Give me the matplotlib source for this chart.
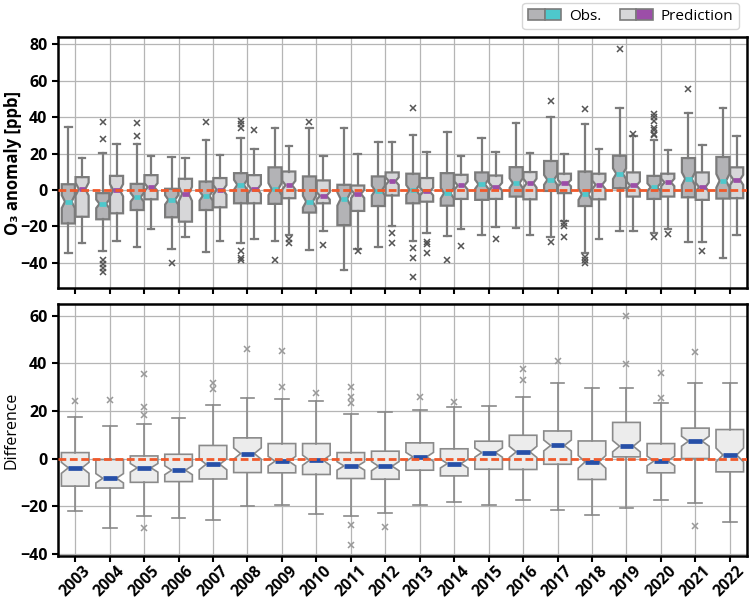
import numpy as np
import matplotlib
matplotlib.use("Agg")
import matplotlib.pyplot as plt
from matplotlib.patches import Patch
from matplotlib.legend_handler import HandlerTuple

plt.rcParams['font.family'] = ['Open Sans', 'DejaVu Sans']

years = [str(y) for y in range(2003, 2023)]

# ---- Observations (top panel) ----
obs_whislo = [-35, -33.8, -31.4, -32.5, -34.3, -29.5, -28, -33.2, -43.9, -31.7,
              -28.4, -25.5, -24.9, -20.8, -26.2, -35, -22.7, -24, -28.8, -37.3]
obs_q1 = [-18.5, -16.2, -11.1, -15.1, -11.1, -7.4, -7.7, -12.5, -19.4, -8.9,
          -7.4, -8.7, -5.5, -3.7, -0.6, -8.9, 0.9, -5, -4.1, -4.8]
obs_med = [-6.5, -7.7, -4.1, -5.5, -3.3, 2.8, 0.4, -6.5, -5, -0.4,
           0, -1.8, 3.1, 3.7, 5.5, -2.4, 8.9, 1.5, 6.1, 5]
obs_q3 = [3.1, -1.8, 3.3, 0.6, 4.6, 9.2, 12.4, 7.4, 2.8, 7.4,
          8.9, 9.2, 9.6, 12.5, 15.9, 10.1, 18.8, 7.7, 17.5, 18.1]
obs_whishi = [34.7, 20.3, 25.3, 18.1, 27.7, 28.4, 34.1, 33.8, 33.8, 26.2,
              30.3, 31.7, 28.8, 36.9, 40, 36.5, 44.8, 27.7, 42.4, 44.8]
obs_fliers = [[], [37.3, 28.2, -38.4, -40.6, -43, -45], [36.9, 29.5], [-40.2], [37.1],
              [38, 36, 34, -33.6, -37.3, -38.7], [-38.7], [37.6], [], [],
              [45.2, -32, -37.5, -48], [-38.4], [], [], [48.9, -28.6],
              [44.3, -37, -38.5, -40], [77.6], [42, 40, 38, 34, 33, 31, 30, -25.8], [55.4], []]

# ---- Prediction (top panel) ----
pred_whislo = [-29, -28.2, -21.8, -25.8, -28.2, -26.8, -24.9, -22.5, -32.3, -19.9,
               -24, -21.4, -20.7, -24.9, -17, -26.9, -22.7, -21.8, -28.8, -24.9]
pred_q1 = [-14.8, -12.9, -5.2, -17.5, -9.6, -7.4, -4.6, -7.4, -11.6, -3.1,
           -6.5, -5, -5, -5.2, -1.8, -5.2, -3.7, -3.7, -5.5, -4.6]
pred_med = [0.4, -0.2, 1.5, -2.2, 0, 0.4, 2.6, -3.3, -2.2, 4.8,
            -0.9, 2.4, 1.8, 3.7, 3.7, 2.8, 2.4, 4.1, 1.5, 5.5]
pred_q3 = [7, 7.7, 8.1, 6.1, 6.5, 8.1, 10.1, 5.2, 2.4, 9.6,
           6.5, 8.3, 7.9, 9.8, 8.9, 8.9, 9.6, 8.9, 9.6, 12.4]
pred_whishi = [17.3, 25.3, 18.5, 17.7, 19.4, 22.5, 24.4, 18.5, 19.7, 26.2,
               20.8, 18.5, 20.7, 20.3, 19.6, 22.5, 29.5, 21.8, 24.7, 29.9]
pred_fliers = [[], [], [], [], [], [32.8], [-26.8, -29.2], [-30.4], [-33.6], [-23.6, -29.2],
               [-28.6, -29.9, -34.7], [-30.8], [-27.1], [], [-18.5, -19.9, -25.8],
               [], [30.8], [-24.5], [-33.6], []]

# ---- Difference (bottom panel) ----
diff_whislo = [-22, -29.2, -24.3, -25, -25.7, -20, -19.6, -23.2, -24.3, -22.9,
               -19.6, -18.4, -19.5, -17.5, -21.5, -23.9, -20.8, -17.5, -18.7, -26.8]
diff_q1 = [-11.6, -12.4, -10, -9.7, -8.6, -5.9, -6, -6.7, -8.4, -8.7,
           -4.9, -7.3, -4.5, -4.6, -2.4, -8.8, 0.7, -6, 0, -5.6]
diff_med = [-3.9, -8.3, -3.9, -4.9, -2.4, 2.1, -1.1, -0.7, -3.1, -3.2,
            0.7, -2.1, 2.5, 2.8, 5.5, -1.4, 5.2, -1, 7.3, 1.5]
diff_q3 = [2.5, -0.4, 1.1, 1.8, 5.5, 8.7, 6.3, 6.3, 2.5, 3.1,
           6.6, 4.1, 7.3, 9.8, 11.6, 7.4, 15.2, 6.3, 12.8, 12.2]
diff_whishi = [17.3, 13.6, 14.6, 17, 22.5, 25.5, 25, 24.3, 18.9, 19.6,
               20.6, 21.5, 22.2, 26, 31.9, 29.5, 29.8, 23.4, 31.9, 31.9]
diff_fliers = [[24.1], [24.6], [35.5, 21.5, 18.5, -29.2], [], [31.6, 29.2], [46.2], [45.2, 29.9],
               [27.4], [30.2, 26, 23.4, -28.1, -36.5], [-29], [26], [23.6], [],
               [37.8, 33], [41], [], [60.1, 39.7], [35.8, 25.5], [44.9, -28.4], []]

N_DAYS = 92


def make_stats(lo, q1, med, q3, hi, fl):
    out = []
    for a, b, m, c, d, f in zip(lo, q1, med, q3, hi, fl):
        half = 1.57 * (c - b) / np.sqrt(N_DAYS)
        out.append(dict(whislo=a, q1=b, med=m, q3=c, whishi=d, fliers=f,
                        cilo=m - half, cihi=m + half))
    return out


EDGE = '#7b7b7b'
OBS_FACE = '#b3b3b6'
PRED_FACE = '#d7d7d9'
DIFF_FACE = '#ececec'
OBS_MED = '#4ec8cc'
PRED_MED = '#9c4ea8'
DIFF_MED = '#2750a8'
ZERO = '#f0592b'

fig = plt.figure(figsize=(7.51, 6.0), dpi=100)
ax1 = fig.add_axes([0.0772, 0.52, 0.9175, 0.418])
ax2 = fig.add_axes([0.0772, 0.0733, 0.9175, 0.42])

x = np.arange(len(years))


def draw(ax, stats, pos, width, face, medc, lw, flc, edge):
    ax.bxp(stats, positions=pos, widths=width, shownotches=True, patch_artist=True,
           showfliers=True,
           boxprops=dict(facecolor=face, edgecolor=edge, linewidth=lw),
           whiskerprops=dict(color=edge, linewidth=lw),
           capprops=dict(color=edge, linewidth=lw),
           medianprops=dict(color=medc, linewidth=3.4, solid_capstyle='butt'),
           flierprops=dict(marker='x', markersize=4.5, markeredgecolor=flc,
                           markeredgewidth=1.1, linestyle='none'),
           manage_ticks=False, zorder=3)


draw(ax1, make_stats(obs_whislo, obs_q1, obs_med, obs_q3, obs_whishi, obs_fliers),
     x - 0.2, 0.38, OBS_FACE, OBS_MED, 1.6, '#555555', EDGE)
draw(ax1, make_stats(pred_whislo, pred_q1, pred_med, pred_q3, pred_whishi, pred_fliers),
     x + 0.2, 0.38, PRED_FACE, PRED_MED, 1.6, '#555555', EDGE)
draw(ax2, make_stats(diff_whislo, diff_q1, diff_med, diff_q3, diff_whishi, diff_fliers),
     x, 0.8, DIFF_FACE, DIFF_MED, 1.2, '#999999', '#8a8a8a')

for ax in (ax1, ax2):
    ax.axhline(0, color=ZERO, linestyle='--', linewidth=2.0, dashes=(2.8, 1.3), zorder=5)
    ax.grid(True, color='#b5b5b5', linewidth=0.9)
    ax.set_axisbelow(True)
    ax.set_xlim(-0.5, 19.5)
    ax.set_xticks(x)
    for s in ax.spines.values():
        s.set_linewidth(1.8)
        s.set_color('black')
    ax.tick_params(axis='both', width=1.5, length=4, labelsize=11.5)

ax1.set_ylim(-54, 84)
ax1.set_yticks([-40, -20, 0, 20, 40, 60, 80])
ax1.set_xticklabels([])
ax2.set_ylim(-41, 65)
ax2.set_yticks([-40, -20, 0, 20, 40, 60])
ax2.set_xticklabels(years, rotation=45, fontweight='bold', fontsize=11.3,
                    ha='center')
ax2.tick_params(axis='x', pad=1)
for ax in (ax1, ax2):
    for lab in ax.get_yticklabels():
        lab.set_fontweight('bold')

ax1.set_ylabel('O\u2083 anomaly [ppb]', fontsize=12, fontweight='bold', va='center')
ax1.yaxis.set_label_coords(-0.065, 0.5)
ax2.set_ylabel('Difference', fontsize=11.5, va='center')
ax2.yaxis.set_label_coords(-0.067, 0.5)

h_obs = (Patch(facecolor=OBS_FACE, edgecolor=EDGE, linewidth=1.2),
         Patch(facecolor=OBS_MED, edgecolor=EDGE, linewidth=1.2))
h_pred = (Patch(facecolor=PRED_FACE, edgecolor=EDGE, linewidth=1.2),
          Patch(facecolor=PRED_MED, edgecolor=EDGE, linewidth=1.2))
fig.legend([h_obs, h_pred], ['Obs.', 'Prediction'],
           handler_map={tuple: HandlerTuple(ndivide=None, pad=0)},
           loc='upper right', bbox_to_anchor=(0.994, 1.007), ncol=2, fontsize=11,
           frameon=True, fancybox=True, edgecolor='#cccccc', handlelength=2.2,
           handleheight=0.8, columnspacing=1.2, handletextpad=0.5, borderpad=0.35)

fig.savefig('out.png', dpi=100)
